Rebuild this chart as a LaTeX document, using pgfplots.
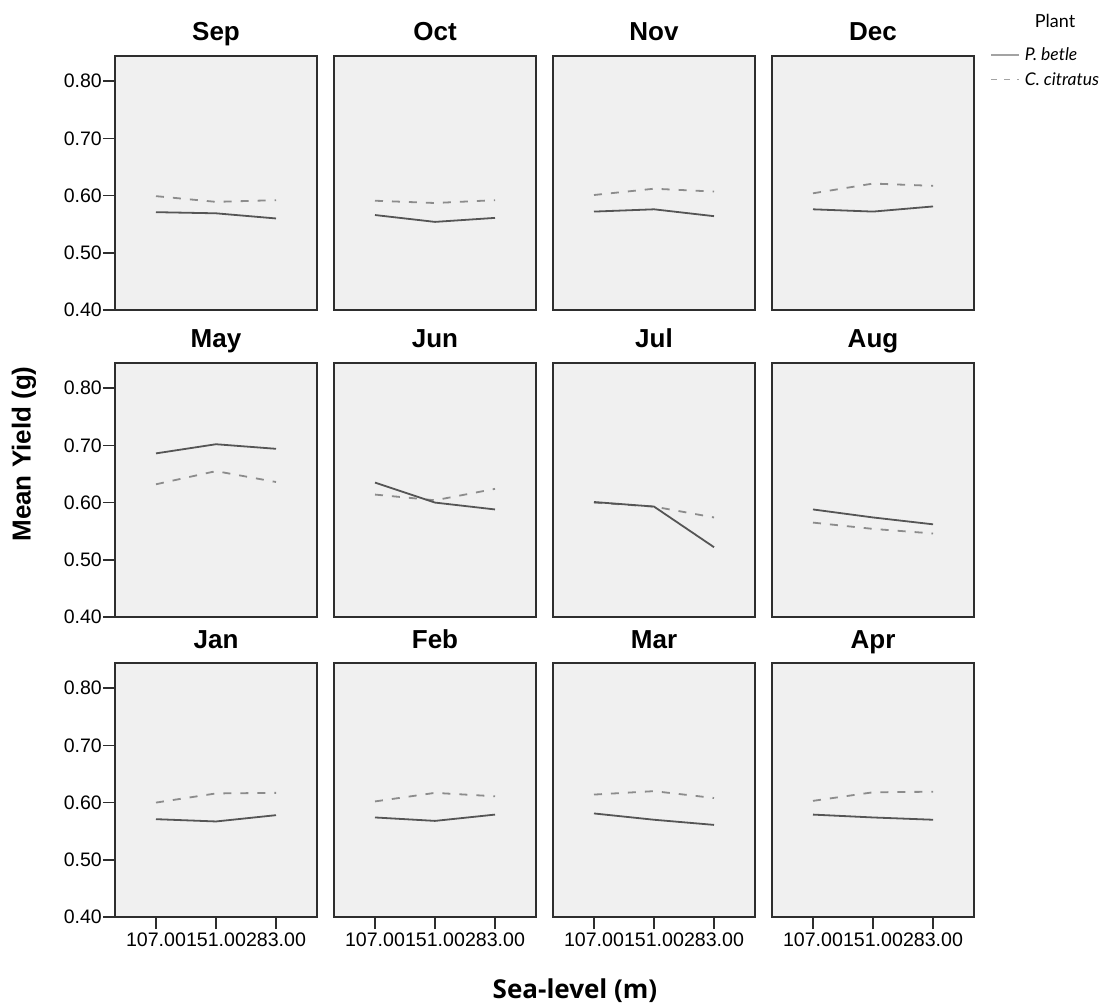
\documentclass[border=0pt]{standalone}
\usepackage{fontspec}
\setmainfont{Liberation Sans}
\newfontfamily\legfont{Lato}
\newfontfamily\osfont{Open Sans}
\usepackage{pgfplots}
\pgfplotsset{compat=1.18}
\definecolor{panelbg}{HTML}{F0F0F0}
\definecolor{axisc}{HTML}{2E2E2E}
\definecolor{solidc}{HTML}{555555}
\definecolor{dashc}{HTML}{8C8C8C}
\pgfplotsset{
  panel/.style={
    scale only axis, width=202pt, height=254pt, anchor=south west,
    xmin=-0.683, xmax=2.683, ymin=0.40, ymax=0.844,
    axis background/.style={fill=panelbg},
    axis line style={draw=axisc, line width=1.8pt},
    xtick=\empty, ytick=\empty,
    tick align=outside, xtick pos=bottom, ytick pos=left,
    major tick length=12pt,
    tick style={draw=axisc, line width=1.6pt},
    /pgf/number format/assume math mode=true,
    title style={font=\fontsize{26}{26}\selectfont\bfseries, at={(0.5,1)}, anchor=base, yshift=9pt, inner sep=0pt},
  },
  leftcol/.style={
    ytick={0.4,0.5,0.6,0.7,0.8},
    yticklabel style={font=\fontsize{19.5}{19.5}\selectfont, /pgf/number format/fixed, /pgf/number format/fixed zerofill, /pgf/number format/precision=2, inner sep=1pt},
  },
  bottomrow/.style={
    xtick={0,1,2}, xticklabels={107.00,151.00,283.00},
    xticklabel style={font=\fontsize{19.6}{19.6}\selectfont, inner sep=0pt, yshift=-4pt},
  },
  sline/.style={draw=solidc, line width=1.8pt, no marks},
  dline/.style={draw=dashc, line width=1.8pt, no marks, dash pattern=on 8pt off 9pt},
}
\begin{document}
\begin{tikzpicture}
\path[use as bounding box] (0,0) rectangle (1102pt,1004pt);
% Row 1
\begin{axis}[panel, leftcol, at={(115pt,694pt)}, title={Sep}]
\addplot[dline] coordinates {(0,0.599) (1,0.589) (2,0.592)};
\addplot[sline] coordinates {(0,0.571) (1,0.569) (2,0.560)};
\end{axis}
\begin{axis}[panel, at={(334pt,694pt)}, title={Oct}]
\addplot[dline] coordinates {(0,0.591) (1,0.587) (2,0.592)};
\addplot[sline] coordinates {(0,0.566) (1,0.554) (2,0.561)};
\end{axis}
\begin{axis}[panel, at={(553pt,694pt)}, title={Nov}]
\addplot[dline] coordinates {(0,0.601) (1,0.612) (2,0.607)};
\addplot[sline] coordinates {(0,0.572) (1,0.576) (2,0.564)};
\end{axis}
\begin{axis}[panel, at={(772pt,694pt)}, title={Dec},
  legend style={draw=none, fill=none, at={(rel axis cs:1.08,1.04)}, anchor=north west,
    font=\legfont\itshape\fontsize{17.5}{17.5}\selectfont, row sep=6pt, column sep=3pt, inner sep=0pt,
    nodes={inner sep=2pt}},
  legend cell align=left,
  legend image code/.code={\draw[#1] (0pt,0pt) -- (28pt,0pt);}]
\addlegendimage{draw=dashc!80, line width=1.5pt, solid}
\addlegendentry{P. betle}
\addlegendimage{draw=dashc!80, line width=1.5pt, dash pattern=on 6pt off 7pt}
\addlegendentry{C. citratus}
\addplot[dline, forget plot] coordinates {(0,0.604) (1,0.621) (2,0.617)};
\addplot[sline, forget plot] coordinates {(0,0.576) (1,0.572) (2,0.581)};
\end{axis}
% Row 2
\begin{axis}[panel, leftcol, at={(115pt,387pt)}, title={May}]
\addplot[dline] coordinates {(0,0.632) (1,0.655) (2,0.636)};
\addplot[sline] coordinates {(0,0.686) (1,0.702) (2,0.694)};
\end{axis}
\begin{axis}[panel, at={(334pt,387pt)}, title={Jun}]
\addplot[dline] coordinates {(0,0.614) (1,0.604) (2,0.624)};
\addplot[sline] coordinates {(0,0.635) (1,0.600) (2,0.588)};
\end{axis}
\begin{axis}[panel, at={(553pt,387pt)}, title={Jul}]
\addplot[dline] coordinates {(0,0.600) (1,0.593) (2,0.574)};
\addplot[sline] coordinates {(0,0.601) (1,0.593) (2,0.522)};
\end{axis}
\begin{axis}[panel, at={(772pt,387pt)}, title={Aug}]
\addplot[dline] coordinates {(0,0.565) (1,0.554) (2,0.546)};
\addplot[sline] coordinates {(0,0.588) (1,0.574) (2,0.562)};
\end{axis}
% Row 3
\begin{axis}[panel, leftcol, bottomrow, at={(115pt,87pt)}, title={Jan}]
\addplot[dline] coordinates {(0,0.600) (1,0.616) (2,0.617)};
\addplot[sline] coordinates {(0,0.571) (1,0.567) (2,0.578)};
\end{axis}
\begin{axis}[panel, bottomrow, at={(334pt,87pt)}, title={Feb}]
\addplot[dline] coordinates {(0,0.602) (1,0.617) (2,0.611)};
\addplot[sline] coordinates {(0,0.574) (1,0.568) (2,0.579)};
\end{axis}
\begin{axis}[panel, bottomrow, at={(553pt,87pt)}, title={Mar}]
\addplot[dline] coordinates {(0,0.614) (1,0.620) (2,0.608)};
\addplot[sline] coordinates {(0,0.581) (1,0.570) (2,0.561)};
\end{axis}
\begin{axis}[panel, bottomrow, at={(772pt,87pt)}, title={Apr}]
\addplot[dline] coordinates {(0,0.603) (1,0.618) (2,0.619)};
\addplot[sline] coordinates {(0,0.579) (1,0.574) (2,0.570)};
\end{axis}
% Legend title and axis titles
\node[font=\legfont\fontsize{18}{18}\selectfont, anchor=center] at (1055pt,983pt) {Plant};
\node[rotate=90, font=\fontsize{26}{26}\selectfont\bfseries, anchor=center] at (24pt,550pt) {Mean Yield (g)};
\node[font=\osfont\bfseries\fontsize{26}{26}\selectfont, anchor=center] at (575pt,13pt) {Sea-level (m)};
\end{tikzpicture}
\end{document}
